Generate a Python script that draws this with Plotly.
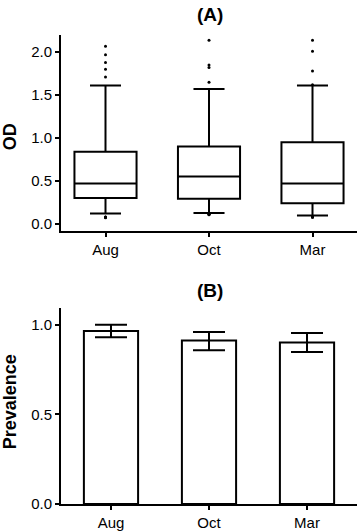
import plotly.graph_objects as go

months = ["Aug", "Oct", "Mar"]
positions = [0, 1, 2]

# panel A: OD box summary
od_q1 = [0.30, 0.29, 0.24]
od_median = [0.47, 0.55, 0.47]
od_q3 = [0.84, 0.90, 0.95]
od_lower = [0.12, 0.125, 0.095]
od_upper = [1.61, 1.57, 1.61]
od_outliers = [
    [2.07, 1.97, 1.88, 1.80, 1.71, 0.08, 0.075, 0.07, 0.08],
    [2.14, 1.85, 1.82, 1.65, 0.11, 0.105, 0.11],
    [2.14, 2.01, 1.78, 1.62, 0.08, 0.075, 0.08],
]

# panel B: prevalence
prevalence = [0.965, 0.911, 0.901]
prev_err_plus = [0.035, 0.048, 0.053]
prev_err_minus = [0.035, 0.054, 0.053]

FONT = "Liberation Sans, Arial, sans-serif"

fig = go.Figure()

for i, m in enumerate(months):
    fig.add_trace(go.Box(
        x=[positions[i]], q1=[od_q1[i]], median=[od_median[i]], q3=[od_q3[i]],
        lowerfence=[od_lower[i]], upperfence=[od_upper[i]],
        width=0.6, whiskerwidth=0.5, boxpoints=False,
        fillcolor="white", line=dict(color="black", width=2),
        name=m, showlegend=False, xaxis="x", yaxis="y",
    ))
    fig.add_trace(go.Scatter(
        x=[positions[i]] * len(od_outliers[i]), y=od_outliers[i],
        mode="markers", marker=dict(color="black", size=3),
        showlegend=False, xaxis="x", yaxis="y",
    ))

fig.add_trace(go.Bar(
    x=positions, y=prevalence, width=0.553,
    marker=dict(color="white", line=dict(color="black", width=2)),
    error_y=dict(type="data", array=prev_err_plus, arrayminus=prev_err_minus,
                 color="black", thickness=2, width=16),
    showlegend=False, xaxis="x2", yaxis="y2",
))

axis_style = dict(showline=True, linecolor="black", linewidth=2, ticks="outside",
                  ticklen=4, tickwidth=2, tickcolor="black", showgrid=False,
                  zeroline=False, tickfont=dict(family=FONT, size=15, color="black"))

fig.update_layout(
    width=358, height=531,
    margin=dict(l=61, r=1, t=35, b=27),
    plot_bgcolor="white", paper_bgcolor="white",
    xaxis=dict(domain=[0, 1], anchor="y", range=[-0.43, 2.43],
               tickvals=positions, ticktext=months, **axis_style),
    yaxis=dict(domain=[0.582, 1], anchor="x", range=[-0.085, 2.2],
               tickvals=[0, 0.5, 1.0, 1.5, 2.0], tickformat=".1f", **axis_style),
    xaxis2=dict(domain=[0, 1], anchor="y2", range=[-0.51, 2.51],
                tickvals=positions, ticktext=months, **axis_style),
    yaxis2=dict(domain=[0, 0.418], anchor="x2", range=[0, 1.093],
                tickvals=[0, 0.5, 1.0], tickformat=".1f", **axis_style),
    annotations=[
        dict(text="<b>(A)</b>", x=0.503, y=1.043, xref="paper", yref="paper",
             xanchor="center", yanchor="middle", showarrow=False,
             font=dict(family=FONT, size=19, color="black")),
        dict(text="<b>(B)</b>", x=0.503, y=0.456, xref="paper", yref="paper",
             xanchor="center", yanchor="middle", showarrow=False,
             font=dict(family=FONT, size=19, color="black")),
        dict(text="<b>OD</b>", x=-0.172, y=0.782, xref="paper", yref="paper",
             xanchor="center", yanchor="middle", textangle=-90, showarrow=False,
             font=dict(family=FONT, size=18, color="black")),
        dict(text="<b>Prevalence</b>", x=-0.172, y=0.217, xref="paper", yref="paper",
             xanchor="center", yanchor="middle", textangle=-90, showarrow=False,
             font=dict(family=FONT, size=18, color="black")),
    ],
)

# drop the default page margin so the figure sits at the window's corner
fig.write_html("out.html", config={"displayModeBar": False},
               post_script="document.body.style.margin='0';")
